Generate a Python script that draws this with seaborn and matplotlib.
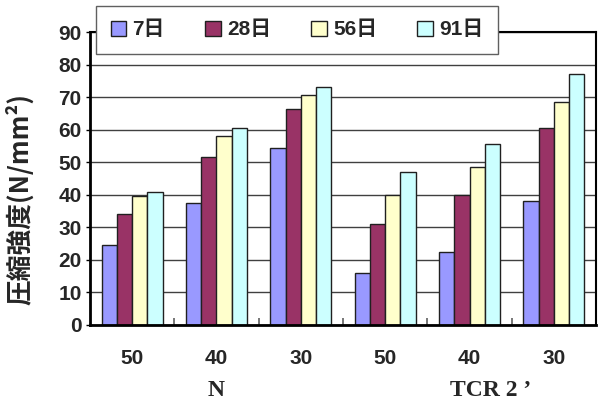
import numpy as np
import pandas as pd
import matplotlib
matplotlib.use("Agg")
import matplotlib.pyplot as plt
import matplotlib.transforms as mtransforms
from matplotlib.patches import Patch
import seaborn as sns

# Compressive strength by cement type, water-cement ratio and curing age
cement = ["N", "N", "N", "TCR", "TCR", "TCR"]
wc_ratio = ["50", "40", "30", "50", "40", "30"]
ages = ["7日", "28日", "56日", "91日"]
strength_7 = [24.5, 37.5, 54.5, 16.0, 22.5, 38.0]
strength_28 = [34.0, 51.5, 66.5, 31.0, 40.0, 60.5]
strength_56 = [39.5, 58.0, 70.5, 40.0, 48.5, 68.5]
strength_91 = [41.0, 60.5, 73.0, 47.0, 55.5, 77.0]
colors = ["#9999FF", "#993366", "#FFFFCC", "#CCFFFF"]
group_labels = ["N", "TCR 2 ’"]
yticks = [0, 10, 20, 30, 40, 50, 60, 70, 80, 90]

sns.set_theme(style="white")
plt.rcParams["font.family"] = ["Liberation Sans", "Noto Sans CJK JP"]

keys = [f"{c}-{w}" for c, w in zip(cement, wc_ratio)]
df = pd.DataFrame({
    "key": keys * 4,
    "age": np.repeat(ages, len(keys)),
    "value": strength_7 + strength_28 + strength_56 + strength_91,
})

fig = plt.figure(figsize=(6, 4), dpi=100)
ax = fig.add_axes([90 / 600, 1 - 325 / 400, 506 / 600, 293 / 400])

sns.barplot(data=df, x="key", y="value", hue="age", order=keys,
            hue_order=ages, palette=colors, width=0.72, saturation=1,
            edgecolor="#202020", linewidth=1.0, ax=ax, zorder=3,
            legend=False)

ax.set_xlim(-0.5, len(keys) - 0.5)
ax.set_ylim(0, 90)
ax.set_yticks(yticks)
ax.yaxis.grid(True, color="#404040", linewidth=1.0)
ax.xaxis.grid(False)
ax.set_axisbelow(True)

for side in ["left", "bottom"]:
    ax.spines[side].set_linewidth(2.0)
    ax.spines[side].set_color("black")
    ax.spines[side].set_zorder(4)
for side in ["top", "right"]:
    ax.spines[side].set_linewidth(1.5)
    ax.spines[side].set_color("black")

ax.tick_params(axis="y", direction="out", length=3, width=1, color="black",
               labelsize=15, pad=3, left=True)
for lab in ax.get_yticklabels():
    lab.set_fontweight("bold")

ax.set_xticks(range(len(keys)))
ax.set_xticklabels(wc_ratio, fontsize=15, fontweight="bold")
ax.tick_params(axis="x", which="major", length=0, pad=17)
ax.set_xlabel("")

# short category separators standing on the x axis
sep_trans = mtransforms.blended_transform_factory(ax.transData, ax.transAxes)
for b in np.arange(len(keys) - 1) + 0.5:
    ax.plot([b, b], [0, 0.025], transform=sep_trans, color="#606060",
            linewidth=1.2, solid_capstyle="butt", zorder=2, clip_on=False)

ax.set_ylabel("圧縮強度(N/mm²)", fontsize=18.5, fontweight="bold",
              family=["Noto Sans CJK JP", "DejaVu Sans"])
ax.yaxis.set_label_coords(-0.11, 0.43)

trans = mtransforms.blended_transform_factory(ax.transData, fig.transFigure)
ax.text(1, 1 - 390 / 400, group_labels[0], transform=trans, ha="center",
        va="center", fontsize=17, fontweight="bold", family="Liberation Serif")
ax.text(4.25, 1 - 390 / 400, group_labels[1], transform=trans, ha="center",
        va="center", fontsize=17, fontweight="bold", family="Liberation Serif")

handles = [Patch(facecolor=c, edgecolor="#202020", linewidth=1.0) for c in colors]
leg = fig.legend(handles, ages, ncol=4, loc="lower left",
                 bbox_to_anchor=(96 / 600, 1 - 54 / 400, 402 / 600, 44 / 400),
                 mode="expand", borderaxespad=0, frameon=True, fancybox=False,
                 edgecolor="#606060", framealpha=1, facecolor="white",
                 prop={"weight": "bold", "size": 15},
                 handlelength=0.75, handleheight=0.75, handletextpad=0.3,
                 borderpad=0.7)
leg.get_frame().set_linewidth(1.0)

fig.savefig("out.png", dpi=100)
